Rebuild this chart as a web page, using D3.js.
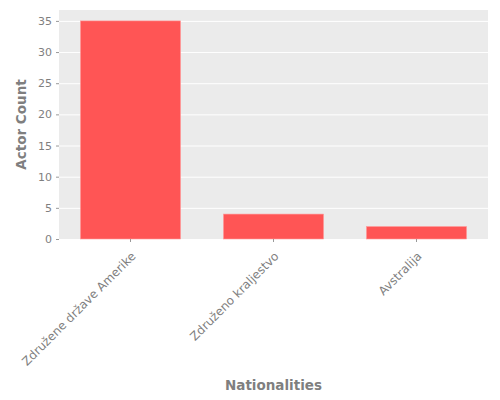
<!DOCTYPE html>
<html>
<head>
<meta charset="utf-8">
<script src="https://cdn.jsdelivr.net/npm/d3@7"></script>
<style>
  body { margin: 0; background: #fff; }
  text { font-family: "DejaVu Sans", sans-serif; }
</style>
</head>
<body>
<div id="chart"></div>
<script>
// data
const nationalities = ["Združene države Amerike", "Združeno kraljestvo", "Avstralija"];
const actorCounts = [35, 4, 2];
const yTicks = [0, 5, 10, 15, 20, 25, 30, 35];

const width = 500, height = 400;
const margin = { top: 10, right: 12, bottom: 161, left: 59 };

const svg = d3.select("#chart").append("svg")
  .attr("width", width)
  .attr("height", height);

const x = d3.scaleBand()
  .domain(nationalities)
  .range([margin.left, width - margin.right])
  .paddingInner(0.3)
  .paddingOuter(0.15);

const y = d3.scaleLinear()
  .domain([0, 35 * 1.05])
  .range([height - margin.bottom, margin.top]);

// panel background
svg.append("rect")
  .attr("x", margin.left)
  .attr("y", margin.top)
  .attr("width", width - margin.left - margin.right)
  .attr("height", height - margin.top - margin.bottom)
  .attr("fill", "#ebebeb");

// grid lines
svg.append("g").selectAll("line")
  .data(yTicks)
  .enter().append("line")
  .attr("x1", margin.left)
  .attr("x2", width - margin.right)
  .attr("y1", d => y(d) + 0.5)
  .attr("y2", d => y(d) + 0.5)
  .attr("stroke", "#fff")
  .attr("stroke-width", 1);

// bars
svg.append("g").selectAll("rect")
  .data(nationalities)
  .enter().append("rect")
  .attr("x", d => x(d))
  .attr("y", (d, i) => y(actorCounts[i]))
  .attr("width", x.bandwidth())
  .attr("height", (d, i) => y(0) - y(actorCounts[i]))
  .attr("fill", "#ff5555")
  .attr("stroke", "#ff9a9a")
  .attr("stroke-width", 0.6);

// y axis
const yAxis = svg.append("g")
  .attr("transform", `translate(${margin.left},0)`)
  .call(d3.axisLeft(y).tickValues(yTicks).tickSize(3).tickPadding(4));
yAxis.select(".domain").remove();
yAxis.selectAll(".tick line").attr("stroke", "#999");
yAxis.selectAll(".tick text")
  .attr("fill", "#7f7f7f")
  .style("font-size", "11px");

// x axis
const xAxis = svg.append("g")
  .attr("transform", `translate(0,${height - margin.bottom})`)
  .call(d3.axisBottom(x).tickSize(3).tickPadding(4));
xAxis.select(".domain").remove();
xAxis.selectAll(".tick line").attr("stroke", "#999");
xAxis.selectAll(".tick text")
  .attr("fill", "#7f7f7f")
  .style("font-size", "12px")
  .attr("text-anchor", "end")
  .attr("x", 0)
  .attr("y", 0)
  .attr("dy", "0.35em")
  .attr("transform", "translate(3,15) rotate(-45)");

// axis titles
svg.append("text")
  .attr("x", (margin.left + width - margin.right) / 2)
  .attr("y", 390)
  .attr("text-anchor", "middle")
  .attr("fill", "#7f7f7f")
  .style("font-size", "13.5px")
  .style("font-weight", "bold")
  .text("Nationalities");

svg.append("text")
  .attr("transform", `translate(26,${(margin.top + height - margin.bottom) / 2}) rotate(-90)`)
  .attr("text-anchor", "middle")
  .attr("fill", "#7f7f7f")
  .style("font-size", "13.5px")
  .style("font-weight", "bold")
  .text("Actor Count");
</script>
</body>
</html>
